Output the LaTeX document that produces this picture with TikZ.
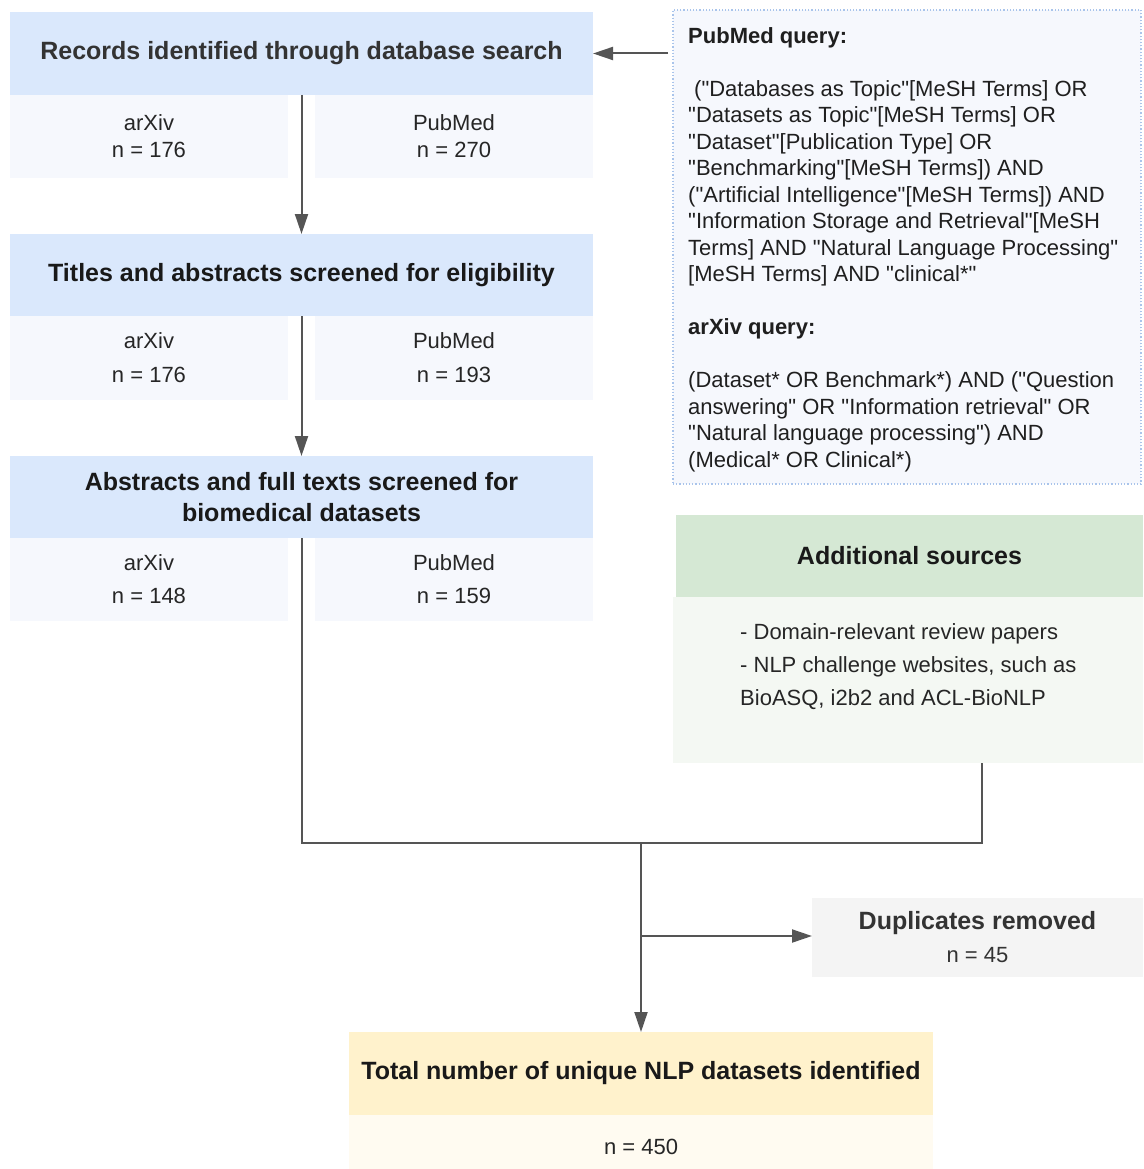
\documentclass[tikz,border=0pt]{standalone}
\usepackage{fontspec}
\setmainfont{Liberation Sans}[Ligatures=TeXOff]
\usetikzlibrary{arrows.meta}
\definecolor{hblue}{HTML}{DAE8FC}
\definecolor{sblue}{HTML}{F6F8FD}
\definecolor{qborder}{HTML}{A9C4EB}
\definecolor{hgreen}{HTML}{D5E8D4}
\definecolor{sgreen}{HTML}{F4F8F3}
\definecolor{gdup}{HTML}{F4F4F4}
\definecolor{hyel}{HTML}{FFF2CC}
\definecolor{syel}{HTML}{FFFBF1}
\definecolor{lnc}{HTML}{555555}
\begin{document}
\begin{tikzpicture}[x=1pt,y=-1pt,
 box/.style={rectangle, inner sep=0pt, outer sep=0pt, draw=none, align=center},
 hdr/.style={box, font=\fontsize{25}{31}\selectfont\bfseries, text=black!90},
 sub/.style={box, font=\fontsize{22}{27}\selectfont, text=black!85},
 conn/.style={draw=lnc, line width=2pt},
 arr/.style={conn, -{Triangle[length=20pt,width=13pt]}}]
\useasboundingbox (0,0) rectangle (1143,1169);

% left column
\node[hdr, fill=hblue, minimum width=583pt, minimum height=83pt, text=black!80] (rec) at (301.5,53.5) {Records identified through database search};
\node[sub, fill=sblue, minimum width=278pt, minimum height=83pt] (recA) at (149,136.5) {arXiv\\n = 176};
\node[sub, fill=sblue, minimum width=278pt, minimum height=83pt] (recP) at (454,136.5) {PubMed\\n = 270};

\node[hdr, fill=hblue, minimum width=583pt, minimum height=82pt] (tit) at (301.5,275) {Titles and abstracts screened for eligibility};
\node[sub, fill=sblue, minimum width=278pt, minimum height=84pt, font=\fontsize{22}{34}\selectfont] (titA) at (149,358) {arXiv\\n = 176};
\node[sub, fill=sblue, minimum width=278pt, minimum height=84pt, font=\fontsize{22}{34}\selectfont] (titP) at (454,358) {PubMed\\n = 193};

\node[hdr, fill=hblue, minimum width=583pt, minimum height=82pt] (abs) at (301.5,497) {Abstracts and full texts screened for\\biomedical datasets};
\node[sub, fill=sblue, minimum width=278pt, minimum height=83pt, font=\fontsize{22}{33}\selectfont] (absA) at (149,579.5) {arXiv\\n = 148};
\node[sub, fill=sblue, minimum width=278pt, minimum height=83pt, font=\fontsize{22}{33}\selectfont] (absP) at (454,579.5) {PubMed\\n = 159};

% query box
\node[box, fill=sblue, draw=qborder, line width=1.2pt, dash pattern=on 1.2pt off 2pt, minimum width=468pt, minimum height=474pt] (query) at (907,247) {};
\node[anchor=north west, align=left, inner sep=0pt, font=\fontsize{22}{26.5}\selectfont, text=black!88] (qtext) at (688,27) {%
\textbf{PubMed query:}\\[26.5pt]
\hspace{6pt}("Databases as Topic"{[}MeSH Terms{]} OR\\
"Datasets as Topic"{[}MeSH Terms{]} OR\\
"Dataset"{[}Publication Type{]} OR\\
"Benchmarking"{[}MeSH Terms{]}) AND\\
("Artificial Intelligence"{[}MeSH Terms{]}) AND\\
"Information Storage and Retrieval"{[}MeSH\\
Terms{]} AND "Natural Language Processing"\\
{[}MeSH Terms{]} AND "clinical*"\\[26.5pt]
\textbf{arXiv query:}\\[26.5pt]
(Dataset* OR Benchmark*) AND ("Question\\
answering" OR "Information retrieval" OR\\
"Natural language processing") AND\\
(Medical* OR Clinical*)};

% additional sources
\node[hdr, fill=hgreen, minimum width=467pt, minimum height=82pt] (addh) at (909.5,556) {Additional sources};
\node[box, fill=sgreen, minimum width=470pt, minimum height=166pt] (addb) at (908,680) {};
\node[anchor=west, align=left, inner sep=0pt, font=\fontsize{22}{33}\selectfont, text=black!85] (addt) at (740,667) {- Domain-relevant review papers\\- NLP challenge websites, such as\\BioASQ, i2b2 and ACL-BioNLP};

% duplicates
\node[hdr, fill=gdup, minimum width=331pt, minimum height=79pt, text=black!80] (dup) at (977.5,937.5) {Duplicates removed\\[2pt]{\mdseries\fontsize{22}{27}\selectfont n = 45}};

% total
\node[hdr, fill=hyel, minimum width=584pt, minimum height=83pt] (toth) at (641,1073.5) {Total number of unique NLP datasets identified};
\node[sub, fill=syel, minimum width=584pt, minimum height=64pt] (totb) at (641,1147) {n = 450};

% connectors
\coordinate (jm) at (641,843);
\coordinate (jd) at (641,936);
\coordinate (addout) at (982,763);
\draw[arr] (rec.south) -- (tit.north);
\draw[arr] (tit.south) -- (abs.north);
\draw[arr, shorten <=5pt] (query.west |- rec.east) -- (rec.east);
\draw[conn] (abs.south) |- (jm);
\draw[conn] (addout) |- (jm);
\draw[arr] (jm) -- (toth.north);
\draw[arr] (jd) -- (jd -| dup.west);
\end{tikzpicture}
\end{document}
